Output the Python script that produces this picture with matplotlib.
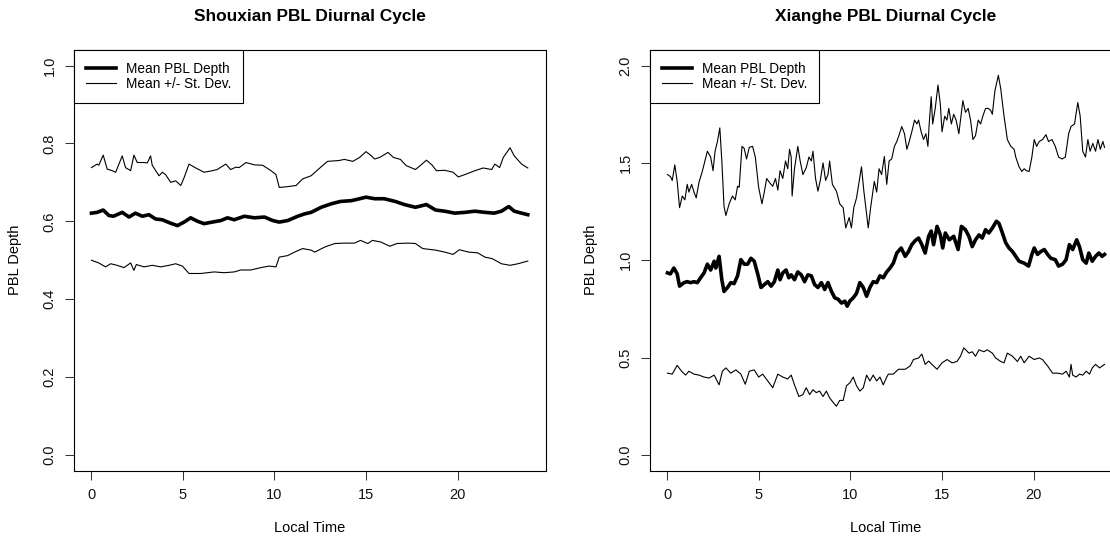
import numpy as np
import matplotlib
matplotlib.use("Agg")
import matplotlib.pyplot as plt

# ---- Shouxian: mean PBL depth and mean +/- one standard deviation ----
shx_hi_t = [0, 0.31, 0.4, 0.64, 0.86, 1.14, 1.32, 1.68, 1.86, 2.14,
            2.32, 2.5, 2.87, 3.05, 3.23, 3.32, 3.69, 3.87, 4.05, 4.33,
            4.6, 4.88, 5.06, 5.33, 5.7, 6.15, 6.5, 6.87, 7.34, 7.6,
            7.89, 8.07, 8.44, 8.9, 9.35, 9.81, 10.08, 10.26, 10.72, 11.18,
            11.54, 12.0, 12.55, 12.9, 13.5, 13.82, 14.28, 14.65, 15.0, 15.3,
            15.47, 15.75, 16.2, 16.5, 16.88, 17.2, 17.7, 17.96, 18.3, 18.6,
            18.85, 19.3, 19.76, 20.04, 20.4, 20.95, 21.4, 21.87, 22.04, 22.3,
            22.5, 22.87, 23.1, 23.5, 23.84]
shx_hi = [0.738, 0.747, 0.744, 0.770, 0.734, 0.730, 0.726, 0.768, 0.738, 0.730,
          0.770, 0.751, 0.751, 0.750, 0.768, 0.744, 0.717, 0.726, 0.720, 0.700,
          0.704, 0.692, 0.712, 0.747, 0.737, 0.726, 0.729, 0.733, 0.747, 0.733,
          0.739, 0.738, 0.751, 0.745, 0.744, 0.730, 0.720, 0.687, 0.689, 0.692,
          0.709, 0.717, 0.740, 0.754, 0.756, 0.759, 0.754, 0.764, 0.779, 0.768,
          0.760, 0.764, 0.777, 0.764, 0.759, 0.743, 0.733, 0.743, 0.757, 0.745,
          0.730, 0.731, 0.726, 0.714, 0.720, 0.730, 0.737, 0.733, 0.747, 0.738,
          0.764, 0.789, 0.768, 0.747, 0.737]

shx_mean_t = [0, 0.31, 0.64, 0.95, 1.2, 1.68, 2.05, 2.4, 2.78, 3.14,
              3.5, 3.87, 4.33, 4.7, 5.06, 5.42, 5.8, 6.15, 6.6, 7.07,
              7.43, 7.8, 8.35, 8.9, 9.45, 9.9, 10.26, 10.72, 11.27, 11.64,
              12.0, 12.55, 13.1, 13.6, 14.2, 14.65, 15.0, 15.47, 16.0, 16.6,
              17.1, 17.7, 18.3, 18.8, 19.3, 19.85, 20.4, 20.95, 21.5, 22.0,
              22.4, 22.8, 23.1, 23.5, 23.84]
shx_mean = [0.621, 0.623, 0.629, 0.615, 0.613, 0.623, 0.611, 0.621, 0.613, 0.617,
            0.606, 0.604, 0.595, 0.589, 0.598, 0.609, 0.600, 0.594, 0.598, 0.602,
            0.609, 0.604, 0.613, 0.609, 0.611, 0.602, 0.598, 0.602, 0.613, 0.619,
            0.623, 0.636, 0.645, 0.651, 0.653, 0.658, 0.662, 0.658, 0.658, 0.651,
            0.643, 0.636, 0.643, 0.629, 0.626, 0.621, 0.623, 0.626, 0.623, 0.621,
            0.626, 0.638, 0.626, 0.621, 0.617]

shx_lo_t = [0, 0.4, 0.77, 1.05, 1.4, 1.77, 2.14, 2.32, 2.45, 2.87,
            3.32, 3.78, 4.24, 4.6, 4.97, 5.33, 5.97, 6.7, 7.25, 7.8,
            8.16, 8.7, 9.25, 9.7, 10.08, 10.26, 10.72, 11.1, 11.54, 12.0,
            12.2, 12.75, 13.3, 13.82, 14.37, 14.7, 15.1, 15.35, 15.8, 16.3,
            16.7, 17.3, 17.7, 18.1, 18.8, 19.3, 19.76, 20.1, 20.6, 21.1,
            21.5, 21.9, 22.4, 22.87, 23.3, 23.84]
shx_lo = [0.500, 0.493, 0.483, 0.491, 0.487, 0.481, 0.493, 0.474, 0.489, 0.483,
          0.487, 0.483, 0.487, 0.491, 0.485, 0.466, 0.466, 0.470, 0.468, 0.470,
          0.475, 0.475, 0.481, 0.485, 0.483, 0.508, 0.512, 0.521, 0.530, 0.526,
          0.521, 0.534, 0.543, 0.544, 0.544, 0.551, 0.543, 0.551, 0.547, 0.536,
          0.543, 0.544, 0.543, 0.530, 0.526, 0.521, 0.515, 0.527, 0.521, 0.519,
          0.508, 0.504, 0.491, 0.487, 0.491, 0.498]

# ---- Xianghe ----
xh_hi_t = [0.0, 0.16, 0.26, 0.40, 0.53, 0.66, 0.81, 0.95, 1.08, 1.17,
           1.32, 1.45, 1.57, 1.72, 1.90, 2.18, 2.36, 2.49, 2.60, 2.73,
           2.86, 2.97, 3.09, 3.19, 3.37, 3.55, 3.70, 3.83, 3.92, 4.07,
           4.19, 4.32, 4.47, 4.65, 4.80, 4.98, 5.16, 5.29, 5.42, 5.57,
           5.75, 5.90, 6.03, 6.15, 6.30, 6.45, 6.57, 6.67, 6.76, 6.81,
           6.94, 7.12, 7.25, 7.40, 7.58, 7.73, 7.86, 7.95, 8.09, 8.22,
           8.35, 8.50, 8.64, 8.77, 8.86, 9.01, 9.23, 9.41, 9.60, 9.74,
           9.93, 10.05, 10.18, 10.33, 10.48, 10.60, 10.73, 10.84, 10.97, 11.10,
           11.30, 11.43, 11.56, 11.70, 11.85, 11.98, 12.11, 12.25, 12.40, 12.53,
           12.66, 12.80, 12.95, 13.08, 13.21, 13.35, 13.50, 13.63, 13.72, 13.86,
           13.99, 14.12, 14.23, 14.30, 14.41, 14.49, 14.63, 14.78, 14.91, 15.00,
           15.15, 15.27, 15.37, 15.51, 15.64, 15.77, 15.92, 16.06, 16.14, 16.28,
           16.43, 16.56, 16.69, 16.83, 16.98, 17.11, 17.23, 17.38, 17.53, 17.66,
           17.75, 17.89, 18.08, 18.21, 18.39, 18.57, 18.76, 18.94, 19.03, 19.21,
           19.36, 19.49, 19.62, 19.76, 19.91, 20.04, 20.17, 20.31, 20.49, 20.68,
           20.82, 21.01, 21.19, 21.37, 21.56, 21.74, 21.92, 22.05, 22.24, 22.42,
           22.55, 22.69, 22.84, 22.97, 23.09, 23.24, 23.39, 23.52, 23.65, 23.79,
           23.88]
xh_hi = [1.44, 1.43, 1.41, 1.49, 1.405, 1.27, 1.33, 1.31, 1.39, 1.35,
         1.39, 1.35, 1.32, 1.40, 1.456, 1.56, 1.53, 1.46, 1.56, 1.61,
         1.68, 1.51, 1.277, 1.23, 1.29, 1.33, 1.31, 1.38, 1.375, 1.585,
         1.575, 1.52, 1.58, 1.585, 1.53, 1.375, 1.29, 1.35, 1.42, 1.40,
         1.38, 1.42, 1.36, 1.46, 1.42, 1.51, 1.47, 1.57, 1.53, 1.33,
         1.47, 1.585, 1.51, 1.44, 1.475, 1.53, 1.51, 1.56, 1.42, 1.355,
         1.41, 1.50, 1.41, 1.44, 1.51, 1.39, 1.355, 1.29, 1.27, 1.166,
         1.22, 1.166, 1.27, 1.32, 1.41, 1.48, 1.355, 1.27, 1.166, 1.27,
         1.405, 1.35, 1.47, 1.44, 1.533, 1.39, 1.51, 1.52, 1.585, 1.61,
         1.645, 1.687, 1.65, 1.57, 1.61, 1.66, 1.72, 1.70, 1.72, 1.66,
         1.62, 1.65, 1.585, 1.70, 1.84, 1.70, 1.78, 1.90, 1.80, 1.66,
         1.74, 1.72, 1.78, 1.70, 1.75, 1.72, 1.65, 1.76, 1.82, 1.76,
         1.78, 1.72, 1.62, 1.64, 1.72, 1.70, 1.74, 1.78, 1.78, 1.77,
         1.75, 1.87, 1.95, 1.88, 1.74, 1.62, 1.585, 1.57, 1.53, 1.48,
         1.456, 1.47, 1.46, 1.456, 1.53, 1.62, 1.585, 1.61, 1.62, 1.645,
         1.61, 1.62, 1.585, 1.53, 1.52, 1.53, 1.65, 1.687, 1.70, 1.81,
         1.74, 1.56, 1.53, 1.62, 1.56, 1.60, 1.56, 1.62, 1.57, 1.61,
         1.58]

xh_mean_t = [0.0, 0.16, 0.35, 0.53, 0.66, 0.90, 1.08, 1.26, 1.45, 1.63,
             1.81, 2.0, 2.18, 2.36, 2.55, 2.64, 2.82, 2.97, 3.09, 3.28,
             3.46, 3.64, 3.83, 4.01, 4.19, 4.38, 4.56, 4.74, 4.93, 5.11,
             5.29, 5.48, 5.66, 5.84, 6.03, 6.15, 6.30, 6.48, 6.63, 6.76,
             6.94, 7.12, 7.31, 7.49, 7.67, 7.86, 8.04, 8.22, 8.41, 8.59,
             8.77, 8.96, 9.14, 9.32, 9.51, 9.69, 9.82, 9.96, 10.15, 10.33,
             10.51, 10.70, 10.88, 11.06, 11.24, 11.43, 11.61, 11.79, 11.98,
             12.16, 12.34, 12.53, 12.77, 12.99, 13.17, 13.35, 13.53, 13.72, 13.9,
             14.08, 14.27, 14.41, 14.54, 14.73, 14.91, 15.04, 15.18, 15.40, 15.64,
             15.88, 16.06, 16.28, 16.47, 16.65, 16.83, 17.02, 17.2, 17.38, 17.56,
             17.75, 17.97, 18.11, 18.30, 18.48, 18.66, 18.85, 19.03, 19.21, 19.49,
             19.73, 19.91, 20.04, 20.22, 20.40, 20.59, 20.77, 20.95, 21.19, 21.37,
             21.59, 21.78, 21.96, 22.14, 22.36, 22.51, 22.69, 22.88, 23.02, 23.21,
             23.39, 23.57, 23.75, 23.88]
xh_mean = [0.935, 0.93, 0.96, 0.93, 0.867, 0.885, 0.89, 0.885, 0.89, 0.885,
           0.91, 0.935, 0.98, 0.95, 0.995, 0.96, 1.02, 0.90, 0.84, 0.86,
           0.885, 0.88, 0.92, 1.003, 0.98, 0.98, 1.01, 0.995, 0.93, 0.86,
           0.875, 0.89, 0.867, 0.89, 0.95, 0.90, 0.935, 0.95, 0.91, 0.925,
           0.90, 0.94, 0.925, 0.89, 0.925, 0.92, 0.875, 0.86, 0.885, 0.85,
           0.885, 0.84, 0.807, 0.80, 0.78, 0.79, 0.764, 0.79, 0.807, 0.83,
           0.885, 0.86, 0.815, 0.86, 0.89, 0.885, 0.92, 0.91, 0.94,
           0.96, 0.985, 1.037, 1.063, 1.02, 1.045, 1.08, 1.10, 1.114, 1.08,
           1.037, 1.123, 1.15, 1.08, 1.174, 1.13, 1.063, 1.14, 1.105, 1.123,
           1.055, 1.174, 1.157, 1.123, 1.07, 1.105, 1.13, 1.114, 1.157, 1.14,
           1.165, 1.20, 1.19, 1.14, 1.09, 1.063, 1.045, 1.02, 0.995, 0.985,
           0.97, 1.03, 1.063, 1.03, 1.045, 1.055, 1.03, 1.01, 1.003, 0.97,
           0.98, 1.003, 1.08, 1.055, 1.105, 1.07, 1.003, 0.985, 1.037, 0.995,
           1.02, 1.037, 1.02, 1.03]

xh_lo_t = [0.0, 0.26, 0.53, 0.77, 0.99, 1.17, 1.45, 1.72, 2.0, 2.27,
           2.55, 2.82, 3.0, 3.19, 3.46, 3.74, 4.01, 4.25, 4.47, 4.74,
           4.98, 5.2, 5.48, 5.75, 6.03, 6.3, 6.57, 6.76, 6.94, 7.18,
           7.40, 7.58, 7.77, 7.95, 8.13, 8.31, 8.5, 8.68, 8.86, 9.05,
           9.23, 9.41, 9.6, 9.78, 9.96, 10.15, 10.33, 10.51, 10.70, 10.88,
           11.06, 11.24, 11.43, 11.61, 11.79, 11.98,
           12.07, 12.34, 12.62, 12.99, 13.26, 13.44, 13.72, 13.9, 14.08, 14.27,
           14.45, 14.73, 15.0, 15.28, 15.55, 15.82, 16.01, 16.19, 16.47, 16.65,
           16.83, 17.02, 17.29, 17.47, 17.75, 17.93, 18.21, 18.39, 18.57, 18.85,
           19.12, 19.3, 19.49, 19.76, 20.04, 20.31, 20.49, 20.77, 21.04, 21.32,
           21.59, 21.78, 21.96, 22.05, 22.14, 22.33, 22.51, 22.69, 22.88, 23.06,
           23.21, 23.39, 23.61, 23.88]
xh_lo = [0.42, 0.415, 0.46, 0.43, 0.41, 0.43, 0.415, 0.41, 0.40, 0.395,
         0.41, 0.36, 0.43, 0.447, 0.42, 0.437, 0.415, 0.363, 0.43, 0.437,
         0.40, 0.415, 0.38, 0.345, 0.415, 0.40, 0.39, 0.41, 0.36, 0.30,
         0.31, 0.345, 0.31, 0.335, 0.32, 0.328, 0.30, 0.328, 0.293, 0.27,
         0.25, 0.28, 0.28, 0.355, 0.37, 0.40, 0.355, 0.328, 0.345, 0.41,
         0.38, 0.41, 0.38, 0.40, 0.36, 0.40,
         0.415, 0.415, 0.44, 0.44, 0.457, 0.49, 0.498, 0.518, 0.465, 0.482,
         0.465, 0.44, 0.473, 0.49, 0.473, 0.48, 0.507, 0.55, 0.523, 0.53,
         0.507, 0.54, 0.53, 0.54, 0.523, 0.498, 0.48, 0.473, 0.523, 0.507,
         0.48, 0.507, 0.473, 0.507, 0.49, 0.498, 0.49, 0.457, 0.42, 0.42,
         0.415, 0.43, 0.40, 0.465, 0.41, 0.40, 0.415, 0.41, 0.43, 0.415,
         0.447, 0.465, 0.447, 0.465]

x_ticks = [0, 5, 10, 15, 20]
shx_y_ticks = [0.0, 0.2, 0.4, 0.6, 0.8, 1.0]
xh_y_ticks = [0.0, 0.5, 1.0, 1.5, 2.0]

# figure settings (pixels, 100 dpi)
W, H = 1110, 540
box_top, box_bottom = 50, 470.5
box_w = 472

plt.rcParams['font.family'] = ['Liberation Sans', 'DejaVu Sans']


def draw_panel(fig, left_px, title, hi_t, hi, mean_t, mean, lo_t, lo, yticks, ytop):
    ax = fig.add_axes([left_px / W, 1 - box_bottom / H, box_w / W, (box_bottom - box_top) / H])
    ax.plot(hi_t, hi, color='black', lw=0.8)
    l_mean, = ax.plot(mean_t, mean, color='black', lw=2.6, solid_joinstyle='round')
    l_sd, = ax.plot(lo_t, lo, color='black', lw=0.8)

    # R style 4% padding round the data range
    ax.set_xlim(-0.955, 24.835)
    ax.set_ylim(-0.04 * ytop, 1.04 * ytop)
    ax.set_xticks(x_ticks)
    ax.set_xticklabels([str(v) for v in x_ticks])
    ax.set_yticks(yticks)
    ax.set_yticklabels(['%.1f' % v for v in yticks], rotation=90, va='center')
    ax.tick_params(direction='out', length=6.5, width=0.75, pad=6, labelsize=10.5,
                   color='#333333', labelcolor='#111111')
    for s in ax.spines.values():
        s.set_linewidth(0.8)

    leg = ax.legend([l_mean, l_sd], ['Mean PBL Depth', 'Mean +/- St. Dev.'],
                    loc='upper left', borderaxespad=0, fancybox=False,
                    edgecolor='black', framealpha=1, fontsize=9.8,
                    handlelength=2.2, handletextpad=0.75, borderpad=0.85,
                    labelspacing=0.12)
    leg.get_frame().set_linewidth(0.8)

    cx = (left_px + box_w / 2) / W
    fig.text(cx, 1 - 17 / H, title, ha='center', va='center', fontsize=12.4, fontweight='bold')
    fig.text(cx, 1 - 528 / H, 'Local Time', ha='center', va='center', fontsize=10.5)
    fig.text((left_px - 59) / W, 1 - ((box_top + box_bottom) / 2) / H, 'PBL Depth',
             ha='center', va='center', rotation=90, fontsize=10.5)
    return ax


fig = plt.figure(figsize=(W / 100, H / 100), dpi=100)
draw_panel(fig, 74, 'Shouxian PBL Diurnal Cycle', shx_hi_t, shx_hi, shx_mean_t, shx_mean,
           shx_lo_t, shx_lo, shx_y_ticks, 1.0)
draw_panel(fig, 650, 'Xianghe PBL Diurnal Cycle', xh_hi_t, xh_hi, xh_mean_t, xh_mean,
           xh_lo_t, xh_lo, xh_y_ticks, 2.0)

fig.savefig('out.png', dpi=100)
